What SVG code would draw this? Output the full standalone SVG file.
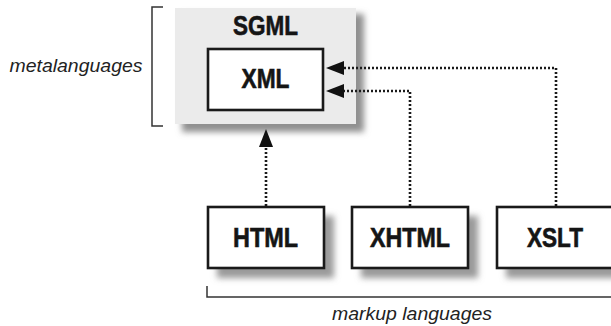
<svg xmlns="http://www.w3.org/2000/svg" width="611" height="326" viewBox="0 0 611 326">
<defs>
<style>
.box{fill:#fff;stroke:#1a1a1a;stroke-width:2.6}
.shadow{fill:#9a9a9a;filter:url(#blur)}
.lbl{font-family:"Liberation Sans",Arial,sans-serif;font-weight:bold;font-size:27px;fill:#151515;stroke:#151515;stroke-width:0.6;text-anchor:middle}
.ital{font-family:"Liberation Sans",Arial,sans-serif;font-style:italic;font-size:18px;fill:#222}
.dot{fill:none;stroke:#1a1a1a;stroke-width:2.6;stroke-dasharray:2 2}
.brk{fill:none;stroke:#333;stroke-width:1.5}
.head{fill:#111}
</style>
<filter id="blur" x="-20%" y="-20%" width="140%" height="140%"><feGaussianBlur stdDeviation="3"/></filter>
</defs>
<rect width="611" height="326" fill="#fff"/>

<g id="metalanguages-bracket">
<path class="brk" d="M163,7 H152 V126 H163"/>
<text class="ital" x="76" y="72" text-anchor="middle" textLength="133" lengthAdjust="spacingAndGlyphs">metalanguages</text>
</g>

<g id="SGML">
<rect x="182" y="14" width="182" height="118" fill="#8f8f8f" filter="url(#blur)"/>
<rect x="175" y="8" width="181" height="116" fill="#ebebeb"/>
<text class="lbl" x="265.5" y="35" font-size="25" textLength="65" lengthAdjust="spacingAndGlyphs">SGML</text>
</g>

<g id="XML">
<rect class="box" x="208" y="49" width="115" height="61"/>
<text class="lbl" x="265.5" y="88" textLength="48" lengthAdjust="spacingAndGlyphs">XML</text>
</g>

<g id="connectors">
<path class="dot" d="M266,206 V145"/>
<path class="dot" d="M410,206 V91 H342"/>
<path class="dot" d="M556,206 V68 H342"/>
<path class="head" d="M266,129 L259,147 L273,147 Z"/>
<path class="head" d="M326,68 L344,61 L344,75 Z"/>
<path class="head" d="M326,91 L344,84 L344,98 Z"/>
</g>

<g id="HTML">
<rect class="shadow" x="217" y="216" width="117" height="62"/>
<rect class="box" x="208" y="207" width="116" height="61"/>
<text class="lbl" x="265.5" y="247" textLength="65" lengthAdjust="spacingAndGlyphs">HTML</text>
</g>

<g id="XHTML">
<rect class="shadow" x="361" y="216" width="117" height="62"/>
<rect class="box" x="352" y="207" width="116" height="61"/>
<text class="lbl" x="410" y="247" textLength="80" lengthAdjust="spacingAndGlyphs">XHTML</text>
</g>

<g id="XSLT">
<rect class="shadow" x="506" y="216" width="117" height="62"/>
<rect class="box" x="497" y="207" width="117" height="61"/>
<text class="lbl" x="555" y="247" textLength="56" lengthAdjust="spacingAndGlyphs">XSLT</text>
</g>

<g id="markup-bracket">
<path class="brk" d="M207,286 V297 H611"/>
<text class="ital" x="412" y="320" text-anchor="middle" textLength="160" lengthAdjust="spacingAndGlyphs">markup languages</text>
</g>
</svg>
